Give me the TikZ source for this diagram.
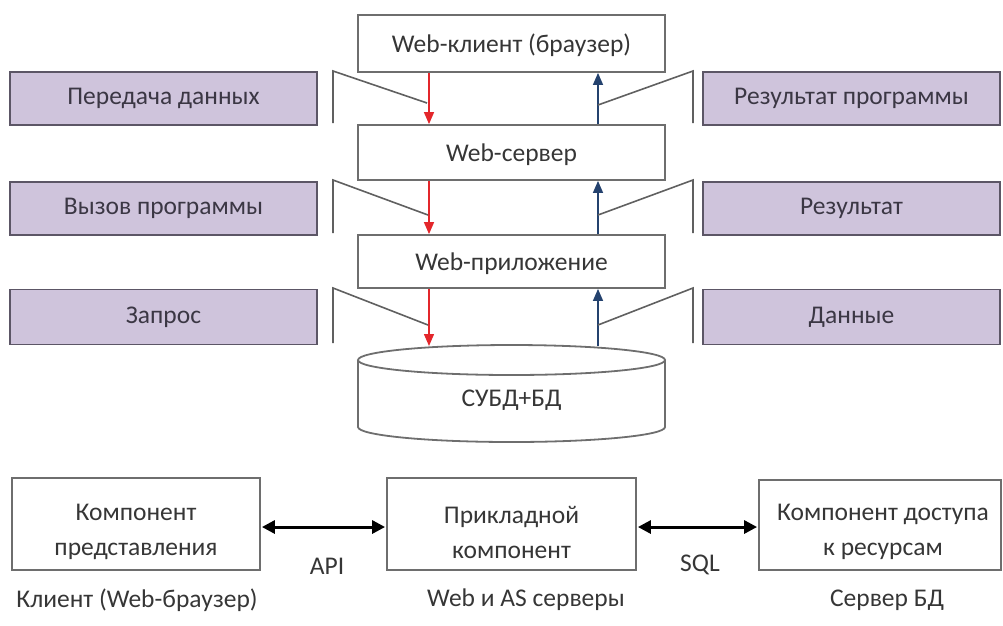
\documentclass[tikz,border=0pt]{standalone}
\usepackage{fontspec}
\setmainfont{Carlito}
\usetikzlibrary{arrows.meta}
\definecolor{boxgray}{HTML}{6E6E6E}
\definecolor{txt}{HTML}{363636}
\definecolor{lav}{HTML}{CFC4DC}
\definecolor{lavdraw}{HTML}{5C5666}
\definecolor{lavtxt}{HTML}{3B3744}
\definecolor{callgray}{HTML}{606060}
\definecolor{redarr}{HTML}{E3262B}
\definecolor{bluearr}{HTML}{24426E}
\begin{document}
\begin{tikzpicture}[x=1pt,y=-1pt,
  wbox/.style={draw=boxgray, line width=1.8pt, fill=white, inner sep=0pt},
  wtext/.style={text=txt, font=\fontsize{25.5}{35}\selectfont, align=center, inner sep=0pt},
  pbox/.style={draw=lavdraw, line width=1.8pt, fill=lav, text=lavtxt, font=\fontsize{25.5}{30}\selectfont, inner sep=0pt, minimum width=307pt, minimum height=53pt},
  callout/.style={draw=callgray, line width=1.6pt},
  reda/.style={draw=redarr, line width=1.4pt, -{Triangle[length=12pt,width=10pt]}},
  bluea/.style={draw=bluearr, line width=1.4pt, -{Triangle[length=12pt,width=10pt]}},
  biarrow/.style={draw=black, line width=3pt, {Triangle[length=13pt,width=13pt]}-{Triangle[length=13pt,width=13pt]}, shorten <=1pt, shorten >=1pt}
]
\useasboundingbox (0,0) rectangle (1003,625);

% stack boxes
\node[wbox, minimum width=307pt, minimum height=57pt] (client) at (511.5,43.5) {};
\node[wtext] (clientt) at (511.5,45) {Web-клиент (браузер)};
\node[wbox, minimum width=307pt, minimum height=55pt] (server) at (511.5,152.5) {};
\node[wtext] (servert) at (511.5,155) {Web-сервер};
\node[wbox, minimum width=307pt, minimum height=53pt] (app) at (511.5,261.5) {};
\node[wtext] (appt) at (511.5,264) {Web-приложение};

% cylinder
\draw[draw=boxgray, line width=1.8pt] (358,360) -- (358,427);
\draw[draw=boxgray, line width=1.8pt] (665,360) -- (665,427);
\begin{scope}
\clip (340,427) rectangle (690,455);
\draw[draw=boxgray, line width=1.8pt] (511.5,427) ellipse [x radius=153.5, y radius=15];
\end{scope}
\draw[draw=boxgray, line width=1.8pt] (511.5,360) ellipse [x radius=153.5, y radius=15];
\node[wtext] (db) at (511.5,400) {СУБД+БД};
\coordinate (dbL) at (429,346);
\coordinate (dbR) at (598,346);

% arrow x positions
\coordinate (rx) at (429,0);
\coordinate (bx) at (598,0);

% red (down) arrows
\draw[reda] (client.south -| rx) -- (server.north -| rx);
\draw[reda] (server.south -| rx) -- (app.north -| rx);
\draw[reda] (app.south -| rx) -- (dbL);
% blue (up) arrows
\draw[bluea] (server.north -| bx) -- (client.south -| bx);
\draw[bluea] (app.north -| bx) -- (server.south -| bx);
\draw[bluea] (dbR) -- (app.south -| bx);

% purple boxes
\node[pbox] (p1) at (163.5,98.5) {Передача данных};
\node[pbox] (p2) at (163.5,208.5) {Вызов программы};
\node[pbox, minimum height=55pt] (p3) at (163.5,317) {Запрос};
\node[pbox, minimum width=297pt] (q1) at (851.5,98.5) {Результат программы};
\node[pbox, minimum width=297pt] (q2) at (851.5,208.5) {Результат};
\node[pbox, minimum width=297pt, minimum height=55pt] (q3) at (851.5,317) {Данные};

% callouts
\draw[callout] (333,123) -- (333,71) -- (427,103);
\draw[callout] (333,233) -- (333,180) -- (428,215);
\draw[callout] (333,343) -- (333,288) -- (428,325);
\draw[callout] (693,123) -- (693,71) -- (598,105);
\draw[callout] (693,233) -- (693,180) -- (598,215);
\draw[callout] (693,343) -- (693,288) -- (598,325);

% bottom row
\node[wbox, minimum width=248pt, minimum height=92pt] (c1) at (136,524) {};
\node[wtext] (c1t) at (136,532) {Компонент\\представления};
\node[wbox, minimum width=249pt, minimum height=92pt] (c2) at (511.5,524) {};
\node[wtext] (c2t) at (511.5,532) {Прикладной\\компонент};
\node[wbox, minimum width=242pt, minimum height=90pt] (c3) at (880,525) {};
\node[wtext] (c3t) at (883,532) {Компонент доступа\\к ресурсам};

\draw[biarrow] (c1.east |- 0,527) -- (c2.west |- 0,527);
\draw[biarrow] (c2.east |- 0,527) -- (c3.west |- 0,527);

\node[wtext] (api) at (327,566) {API};
\node[wtext] (sql) at (700,565) {SQL};

\node[wtext] (l1) at (137,600) {Клиент (Web-браузер)};
\node[wtext] (l2) at (526,600) {Web и AS серверы};
\node[wtext] (l3) at (887,600) {Сервер БД};
\end{tikzpicture}
\end{document}
